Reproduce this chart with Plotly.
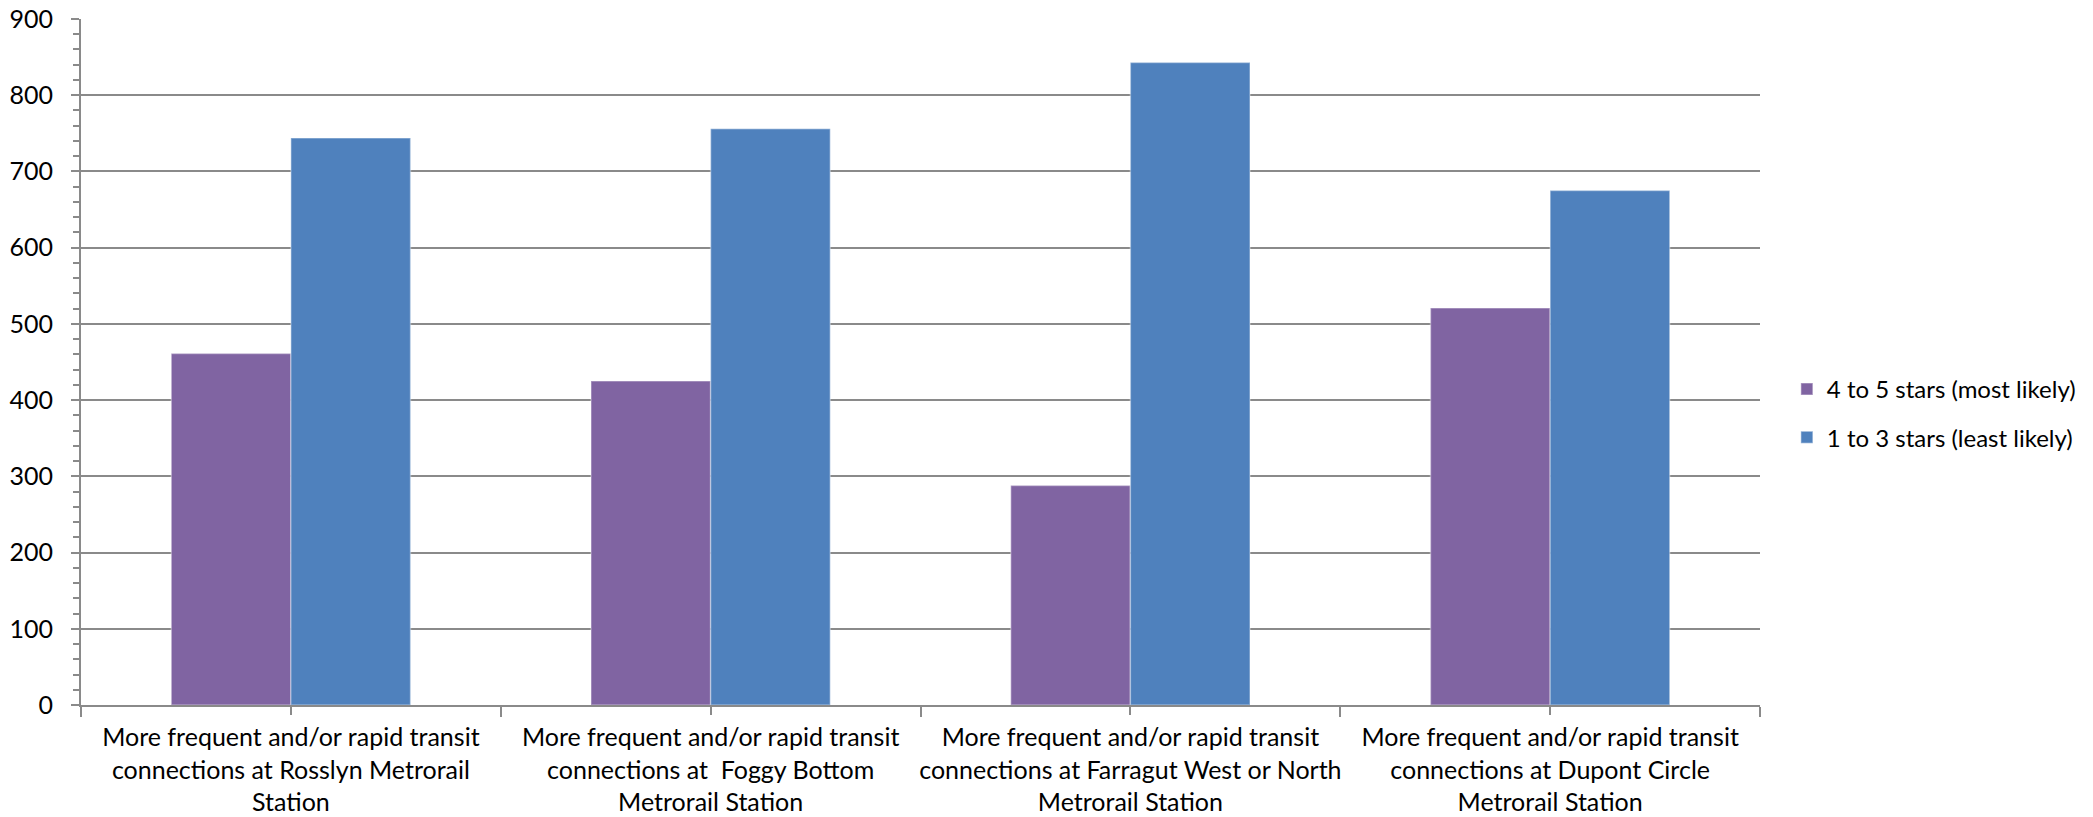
import plotly.graph_objects as go

categories = [
    "More frequent and/or rapid transit<br>connections at Rosslyn Metrorail<br>Station",
    "More frequent and/or rapid transit<br>connections at \u00a0Foggy Bottom<br>Metrorail Station",
    "More frequent and/or rapid transit<br>connections at Farragut West or North<br>Metrorail Station",
    "More frequent and/or rapid transit<br>connections at Dupont Circle<br>Metrorail Station",
]
most_likely = [461, 425, 288, 521]
least_likely = [744, 756, 843, 675]
series_names = ["4 to 5 stars (most likely)", "1 to 3 stars (least likely)"]
y_ticks = [0, 100, 200, 300, 400, 500, 600, 700, 800, 900]

positions = list(range(len(categories)))
FONT = "Lato, Calibri, 'Liberation Sans', sans-serif"
GRID = "#8a8a8a"

fig = go.Figure()
fig.add_trace(go.Bar(
    x=positions, y=most_likely, name=series_names[0], legendgroup="a",
    marker=dict(color="#8064A2", line=dict(color="rgba(255,255,255,0.35)", width=1.5)),
))
fig.add_trace(go.Bar(
    x=positions, y=least_likely, name=series_names[1], legendgroup="b",
    marker=dict(color="#4F81BD", line=dict(color="rgba(255,255,255,0.35)", width=1.5)),
))

fig.update_layout(
    width=2093, height=817,
    margin=dict(l=81, r=331, t=19, b=112),
    paper_bgcolor="white", plot_bgcolor="white",
    barmode="group", bargap=0.43, bargroupgap=0,
    font=dict(family=FONT, size=25, color="black"),
    legend=dict(
        x=1.016, xanchor="left", y=0.425, yanchor="middle",
        traceorder="grouped", tracegroupgap=14,
        font=dict(family=FONT, size=24, color="black"),
        bgcolor="rgba(0,0,0,0)",
    ),
    showlegend=True,
)

fig.update_xaxes(
    automargin=False,
    range=[-0.5, len(categories) - 0.5],
    tickmode="array", tickvals=positions, ticktext=categories,
    ticks="outside", ticklen=8, tickwidth=2, tickcolor=GRID,
    showline=True, linecolor=GRID, linewidth=2,
    showgrid=False, zeroline=False,
    ticklabelstandoff=1, ticklabeloverflow="allow",
    minor=dict(tickmode="array", tickvals=[p - 0.5 for p in positions] + [len(categories) - 0.5],
               ticks="outside", ticklen=10, tickwidth=2, tickcolor=GRID, showgrid=False),
    tickfont=dict(family=FONT, size=25, color="black"),
)

fig.update_yaxes(
    automargin=False,
    range=[0, 900],
    tickmode="array", tickvals=y_ticks,
    ticks="outside", ticklen=8, tickwidth=2, tickcolor=GRID,
    showline=True, linecolor=GRID, linewidth=2,
    showgrid=True, gridcolor=GRID, gridwidth=2,
    zeroline=False,
    minor=dict(dtick=20, tick0=0, ticks="outside", ticklen=6, tickwidth=2, tickcolor=GRID, showgrid=False),
    tickfont=dict(family=FONT, size=25, color="black"),
    ticklabelstandoff=13, ticklabeloverflow="allow",
)

fig.write_html(
    "out.html",
    config={"displayModeBar": False},
    post_script="document.body.style.margin='0';document.body.style.overflow='hidden';",
)
